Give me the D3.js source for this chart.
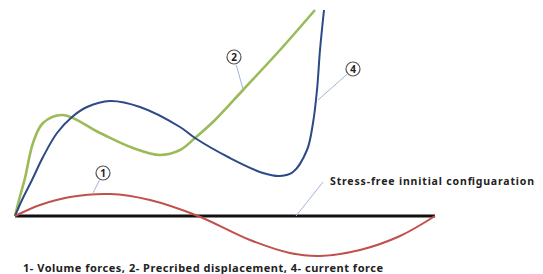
<!DOCTYPE html>
<html>
<head>
<meta charset="utf-8">
<script src="https://cdn.jsdelivr.net/npm/d3@7"></script>
<style>
	body { margin: 0; background: #fff; }
	svg text { font-family: "Noto Sans", "DejaVu Sans", sans-serif; font-weight: bold; fill: #222; }
</style>
</head>
<body>
<svg id="chart"></svg>
<script>
// curve points, x along the bar, y above the bar (same units for both)
var volumeX = [0, 25, 55, 95, 135, 183, 235, 275, 305, 345, 385, 420];
var volumeY = [0, 11, 19, 22, 16, 0, -24, -37, -40, -34, -20, 0];

var prescribedX = [0, 4, 10, 18, 28, 48, 85, 118, 145, 165, 180, 200, 228, 265, 300];
var prescribedY = [0, 16, 38, 73, 93, 101, 83, 68, 61, 66, 78, 96, 126, 166, 206];

var currentX = [0, 7, 17, 28, 42, 57, 72, 95, 125, 165, 180, 215, 248, 265, 278, 292, 298, 302, 305, 309];
var currentY = [0, 16, 36, 59, 83, 99, 109, 115, 109, 89, 78, 58, 43, 40, 44, 66, 93, 126, 166, 206];

var barLabel = "Stress-free innitial configuaration";
var caption = "1- Volume forces, 2- Precribed displacement, 4- current force";

// circled tags: text, tag centre, point on curve
var tags = [
	{ text: "1", cx: 88, cy: 43, px: 78, py: 23 },
	{ text: "2", cx: 219, cy: 159, px: 228, py: 127 },
	{ text: "4", cx: 338, cy: 147, px: 303, py: 116 }
];

(function() {
	var width = 543, height = 274;
	var svg = d3.select("#chart").attr("width", width).attr("height", height);

	var x = d3.scaleLinear().domain([0, 420]).range([15, 435]);
	var y = d3.scaleLinear().domain([0, 206]).range([216, 10]);

	function zip(xs, ys) {
		return xs.map(function(d, i) { return [d, ys[i]]; });
	}

	var line = d3.line()
		.x(function(d) { return x(d[0]); })
		.y(function(d) { return y(d[1]); })
		.curve(d3.curveCatmullRom.alpha(0.5));

	// BASELINE
	svg.append("line")
		.attr("x1", x(0)).attr("x2", x(420))
		.attr("y1", y(0)).attr("y2", y(0))
		.style("stroke", "#111").style("stroke-width", 3);

	// CURVES
	svg.append("path").attr("d", line(zip(prescribedX, prescribedY)))
		.style("fill", "none").style("stroke", "#9bbb59").style("stroke-width", 2.6);
	svg.append("path").attr("d", line(zip(currentX, currentY)))
		.style("fill", "none").style("stroke", "#2d4a86").style("stroke-width", 2);
	svg.append("path").attr("d", line(zip(volumeX, volumeY)))
		.style("fill", "none").style("stroke", "#c0504d").style("stroke-width", 2);

	// LEADERS + TAGS
	tags.forEach(function(t) {
		var cx = x(t.cx), cy = y(t.cy);
		var px = x(t.px), py = y(t.py);
		var ang = Math.atan2(py - cy, px - cx);
		svg.append("line")
			.attr("x1", cx + Math.cos(ang) * 8).attr("y1", cy + Math.sin(ang) * 8)
			.attr("x2", px).attr("y2", py)
			.style("stroke", "#9fb6d8").style("stroke-width", 1);
		svg.append("circle")
			.attr("cx", cx).attr("cy", cy).attr("r", 7)
			.style("fill", "#fff").style("stroke", "#555").style("stroke-width", 1.2);
		svg.append("text")
			.attr("x", cx).attr("y", cy + 3.5)
			.attr("text-anchor", "middle")
			.style("font-size", "10px")
			.text(t.text);
	});

	// bar label
	svg.append("line")
		.attr("x1", x(281)).attr("y1", y(0))
		.attr("x2", x(308)).attr("y2", y(34))
		.style("stroke", "#9fb6d8").style("stroke-width", 1);
	svg.append("text")
		.attr("x", 330).attr("y", 185)
		.attr("textLength", 204)
		.style("font-size", "10.5px")
		.text(barLabel);

	svg.append("text")
		.attr("x", 23).attr("y", 272)
		.attr("textLength", 360)
		.style("font-size", "11px")
		.text(caption);
})();
</script>
</body>
</html>
